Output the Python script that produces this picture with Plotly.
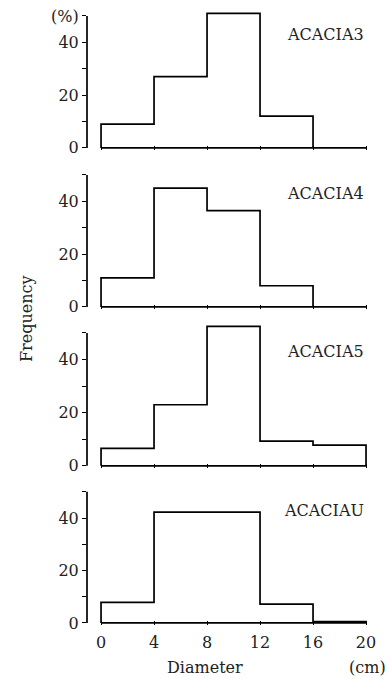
import plotly.graph_objects as go

bin_edges = [0, 4, 8, 12, 16, 20]
panels = ["ACACIA3", "ACACIA4", "ACACIA5", "ACACIAU"]
freq_acacia3 = [9, 27, 51, 12, 0]
freq_acacia4 = [11, 45, 36.5, 8, 0]
freq_acacia5 = [6.6, 23, 52.5, 9.3, 7.8]
freq_acaciau = [7.8, 42.3, 42.3, 7.2, 0.5]
series = [freq_acacia3, freq_acacia4, freq_acacia5, freq_acaciau]
y_tickvals = [0, 10, 20, 30, 40, 50]
y_ticktext = ["0", "", "20", "", "40", ""]
x_tickvals = [0, 4, 8, 12, 16, 20]

FONT = "DejaVu Serif"
TXT = "#222"
FS = 16
W, H = 389, 679
ML, MR, MT, MB = 87, 19, 8, 54
PW, PH = W - ML - MR, H - MT - MB


def fy(px):
    return (H - MB - px) / PH


def fx(px):
    return (px - ML) / PW


# pixel rows of each panel: (bottom of range, top of extended range)
panel_px = [(150, 8), (309, 167), (468, 325), (625, 484)]
domains = [[max(0, fy(b)), min(1, fy(t))] for b, t in panel_px]

fig = go.Figure()
shapes = []
for i, (name, vals) in enumerate(zip(panels, series)):
    xs = [bin_edges[0]]
    ys = [0]
    for j, v in enumerate(vals):
        xs += [bin_edges[j], bin_edges[j + 1]]
        ys += [v, v]
    xs += [bin_edges[-1], bin_edges[0]]
    ys += [0, 0]
    ax = "" if i == 0 else str(i + 1)
    fig.add_trace(go.Scatter(x=xs, y=ys, mode="lines",
                             line=dict(color="black", width=1.7),
                             cliponaxis=False, showlegend=False,
                             hoverinfo="skip",
                             xaxis="x" + ax, yaxis="y" + ax))
    tt = list(y_ticktext)
    if i == 0:
        tt[-1] = "(%)"
    fig.layout["yaxis" + ax] = dict(
        domain=domains[i], range=[-0.8, 53], anchor="x" + ax,
        tickvals=y_tickvals, ticktext=tt, ticks="outside", ticklen=4,
        tickwidth=1.2, tickcolor="black",
        showline=False, showgrid=False, zeroline=False,
        tickfont=dict(family=FONT, size=FS, color=TXT))
    fig.layout["xaxis" + ax] = dict(
        range=[-1.06, 20.3], anchor="y" + ax,
        tickvals=x_tickvals, ticks="inside", ticklen=4, tickwidth=1.2,
        tickcolor="black", showline=False, showgrid=False, zeroline=False,
        showticklabels=(i == 3), ticklabelstandoff=6,
        tickfont=dict(family=FONT, size=FS, color=TXT))
    shapes.append(dict(type="line", xref="x" + ax + " domain", yref="y" + ax,
                       x0=0, x1=0, y0=0, y1=y_tickvals[-1],
                       line=dict(color="black", width=1.7)))
    fig.add_annotation(x=20, y=43, xref="x" + ax, yref="y" + ax,
                       text=name, showarrow=False, xanchor="right",
                       yanchor="middle",
                       font=dict(family=FONT, size=FS, color=TXT))

fig.add_annotation(x=fx(27), y=fy(319), xref="paper", yref="paper",
                   text="Frequency", showarrow=False, textangle=-90,
                   xanchor="center", yanchor="middle",
                   font=dict(family=FONT, size=FS, color=TXT))
fig.add_annotation(x=fx(205), y=fy(668), xref="paper", yref="paper",
                   text="Diameter", showarrow=False,
                   xanchor="center", yanchor="middle",
                   font=dict(family=FONT, size=FS, color=TXT))
fig.add_annotation(x=fx(388), y=fy(668), xref="paper", yref="paper",
                   text="(cm)", showarrow=False,
                   xanchor="right", yanchor="middle",
                   font=dict(family=FONT, size=FS, color=TXT))

fig.update_layout(width=W, height=H, shapes=shapes,
                  margin=dict(l=ML, r=MR, t=MT, b=MB),
                  paper_bgcolor="white", plot_bgcolor="white")
fig.write_html("out.html", config={"displayModeBar": False},
               post_script="document.body.style.margin='0';"
                           "document.body.style.overflow='hidden';")
